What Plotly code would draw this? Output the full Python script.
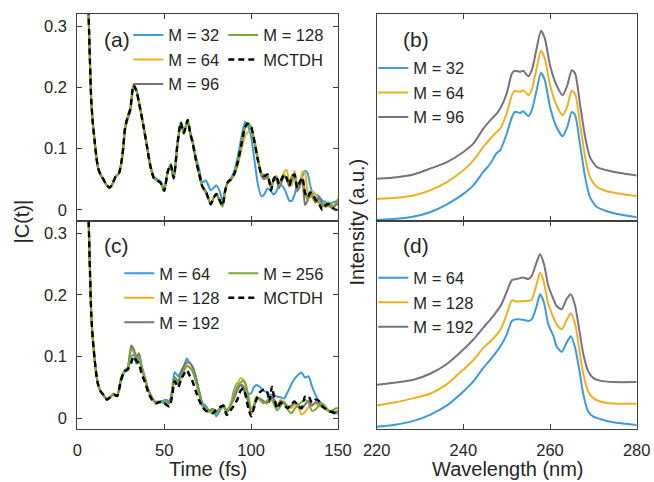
import plotly.graph_objects as go

W, H = 654, 482

# ---------------- Panel (a): |C(t)| ----------------
TA = [0, 2, 4, 6, 7, 8, 9, 10, 11, 12, 13.5, 15, 16.5, 18.5, 20, 22, 24, 26, 27.5, 29,
      30.5, 32.3, 34, 36, 38, 40, 42, 44, 46, 48, 50, 52, 53.7, 55.5, 57.5, 59.5, 61.3, 63.5, 65, 66.5,
      68, 70, 72, 74, 76.8, 78.5, 80, 82, 83.6, 85, 86.5, 88.5, 90.5, 92.5, 94.5, 96.5, 98, 100, 102, 104,
      106, 107.5, 109.5, 111.5, 113, 114.5, 116, 117.5, 119, 120.5, 122, 123.5, 125, 126.5, 128, 129.5, 131, 132.5, 134, 135.5,
      137, 139, 141, 143, 145, 147, 149, 150]

A_M32 = [1.0, 0.86, 0.6, 0.37, 0.27, 0.18, 0.14, 0.112, 0.086, 0.068,
         0.057, 0.05, 0.042, 0.036, 0.041, 0.054, 0.06, 0.088, 0.13, 0.148,
         0.16, 0.2, 0.196, 0.17, 0.14, 0.108, 0.075, 0.055, 0.05, 0.046,
         0.035, 0.062, 0.072, 0.05, 0.1, 0.14, 0.124, 0.145, 0.127, 0.112,
         0.09, 0.068, 0.045, 0.048, 0.032, 0.036, 0.04, 0.03, 0.015, 0.03,
         0.045, 0.052, 0.065, 0.09, 0.12, 0.144, 0.138, 0.12, 0.08, 0.04,
         0.022, 0.025, 0.035, 0.03, 0.025, 0.03, 0.04, 0.04, 0.035, 0.025,
         0.015, 0.015, 0.025, 0.04, 0.045, 0.055, 0.064, 0.06, 0.04, 0.027,
         0.025, 0.022, 0.015, 0.012, 0.01, 0.012, 0.014, 0.012]
A_M64 = [1.0, 0.86, 0.6, 0.37, 0.27, 0.18, 0.14, 0.112, 0.086, 0.068,
         0.057, 0.05, 0.042, 0.036, 0.041, 0.054, 0.06, 0.09, 0.134, 0.151,
         0.164, 0.203, 0.195, 0.168, 0.138, 0.105, 0.072, 0.052, 0.048, 0.044,
         0.032, 0.062, 0.073, 0.052, 0.103, 0.141, 0.125, 0.146, 0.125, 0.108,
         0.085, 0.06, 0.038, 0.03, 0.01, 0.02, 0.026, 0.016, 0.008, 0.03,
         0.044, 0.05, 0.058, 0.075, 0.1, 0.12, 0.127, 0.128, 0.115, 0.085,
         0.06, 0.058, 0.05, 0.04, 0.048, 0.055, 0.045, 0.05, 0.062, 0.065,
         0.045, 0.04, 0.064, 0.04, 0.035, 0.063, 0.06, 0.03, 0.02, 0.03,
         0.025, 0.015, 0.008, 0.01, 0.005, 0.004, 0.008, 0.01]
A_M96 = [1.0, 0.86, 0.6, 0.37, 0.27, 0.18, 0.14, 0.112, 0.086, 0.068,
         0.057, 0.05, 0.042, 0.036, 0.041, 0.054, 0.06, 0.09, 0.135, 0.152,
         0.165, 0.204, 0.195, 0.168, 0.138, 0.105, 0.072, 0.052, 0.048, 0.044,
         0.031, 0.062, 0.074, 0.052, 0.105, 0.143, 0.126, 0.147, 0.125, 0.108,
         0.085, 0.06, 0.038, 0.03, 0.009, 0.02, 0.026, 0.015, 0.007, 0.03,
         0.045, 0.05, 0.06, 0.08, 0.107, 0.134, 0.14, 0.135, 0.11, 0.08,
         0.055, 0.05, 0.055, 0.035, 0.048, 0.05, 0.035, 0.045, 0.055, 0.05,
         0.038, 0.05, 0.055, 0.03, 0.04, 0.05, 0.008, 0.015, 0.03, 0.02,
         0.012, 0.02, 0.01, 0.005, 0.008, 0.002, 0.01, 0.008]
A_M128 = [1.0, 0.86, 0.6, 0.37, 0.27, 0.18, 0.14, 0.112, 0.086, 0.068,
          0.057, 0.05, 0.042, 0.036, 0.041, 0.054, 0.06, 0.09, 0.135, 0.152,
          0.165, 0.205, 0.196, 0.168, 0.138, 0.105, 0.072, 0.052, 0.048, 0.044,
          0.031, 0.062, 0.074, 0.053, 0.105, 0.143, 0.127, 0.148, 0.125, 0.108,
          0.085, 0.06, 0.036, 0.028, 0.008, 0.02, 0.025, 0.013, 0.005, 0.03,
          0.045, 0.05, 0.06, 0.08, 0.108, 0.136, 0.142, 0.136, 0.11, 0.08,
          0.058, 0.055, 0.058, 0.034, 0.052, 0.055, 0.04, 0.052, 0.057, 0.05,
          0.042, 0.056, 0.057, 0.035, 0.046, 0.052, 0.03, 0.015, 0.025, 0.022,
          0.015, 0.012, 0.005, 0.01, 0.012, 0.006, 0.012, 0.018]
A_MCTDH = [1.0, 0.86, 0.6, 0.37, 0.27, 0.18, 0.14, 0.112, 0.086, 0.068,
           0.057, 0.05, 0.042, 0.036, 0.041, 0.054, 0.06, 0.09, 0.135, 0.152,
           0.165, 0.204, 0.195, 0.168, 0.138, 0.105, 0.072, 0.052, 0.048, 0.044,
           0.031, 0.062, 0.074, 0.052, 0.105, 0.143, 0.126, 0.147, 0.125, 0.108,
           0.085, 0.06, 0.038, 0.03, 0.009, 0.02, 0.026, 0.015, 0.007, 0.03,
           0.045, 0.05, 0.06, 0.08, 0.108, 0.135, 0.141, 0.136, 0.11, 0.08,
           0.058, 0.055, 0.058, 0.032, 0.05, 0.056, 0.042, 0.05, 0.058, 0.052,
           0.04, 0.055, 0.058, 0.036, 0.045, 0.053, 0.028, 0.02, 0.028, 0.025,
           0.017, 0.01, 0.0, 0.008, 0.009, 0.003, 0.0, 0.003]

# ---------------- Panel (c): |C(t)| ----------------
TC = [0, 2, 4, 6, 7, 8, 9, 10, 11, 12, 13.5, 15, 17, 19, 21, 23, 25, 27, 29, 31,
      32.5, 34, 35.5, 37, 39, 41, 43, 45, 47, 49, 51, 53, 54.5, 56, 58, 60, 61.5, 63, 64.5, 66,
      68, 70, 72, 74, 76, 78, 80, 82, 84, 86, 88, 90, 92, 94, 95.5, 97, 98.5, 100, 101.5, 103,
      105, 107, 109, 110.5, 112, 113.5, 115, 117, 119, 121, 123, 125, 127, 129, 131, 133, 135, 137, 139, 141,
      143, 145, 147, 149, 150]

C_M64 = [1.0, 0.86, 0.6, 0.38, 0.27, 0.172, 0.127, 0.096, 0.071, 0.055,
         0.044, 0.038, 0.032, 0.035, 0.04, 0.037, 0.058, 0.074, 0.078, 0.1,
         0.103, 0.088, 0.095, 0.08, 0.062, 0.045, 0.034, 0.027, 0.027, 0.028,
         0.03, 0.028, 0.045, 0.075, 0.068, 0.078, 0.085, 0.097, 0.09, 0.085,
         0.07, 0.045, 0.025, 0.02, 0.012, 0.015, 0.003, 0.012, 0.02, 0.008,
         0.02, 0.043, 0.057, 0.054, 0.046, 0.042, 0.04, 0.04, 0.05, 0.054,
         0.051, 0.045, 0.042, 0.038, 0.038, 0.037, 0.035, 0.034, 0.032, 0.042,
         0.054, 0.064, 0.07, 0.074, 0.066, 0.068, 0.052, 0.038, 0.028, 0.022,
         0.016, 0.012, 0.008, 0.008, 0.008]
C_M128 = [1.0, 0.86, 0.6, 0.38, 0.27, 0.17, 0.126, 0.095, 0.07, 0.054,
          0.043, 0.037, 0.03, 0.034, 0.039, 0.036, 0.062, 0.075, 0.08, 0.112,
          0.108, 0.096, 0.1, 0.082, 0.063, 0.044, 0.033, 0.025, 0.026, 0.026,
          0.025, 0.025, 0.04, 0.065, 0.058, 0.07, 0.078, 0.086, 0.083, 0.08,
          0.062, 0.04, 0.02, 0.016, 0.01, 0.014, 0.01, 0.015, 0.02, 0.01,
          0.022, 0.038, 0.055, 0.065, 0.062, 0.05, 0.03, 0.015, 0.02, 0.032,
          0.03, 0.026, 0.024, 0.028, 0.034, 0.03, 0.022, 0.03, 0.025, 0.02,
          0.016, 0.022, 0.018, 0.006, 0.01, 0.018, 0.022, 0.024, 0.02, 0.018,
          0.014, 0.01, 0.012, 0.01, 0.01]
C_M192 = [1.0, 0.86, 0.6, 0.38, 0.27, 0.17, 0.126, 0.095, 0.07, 0.054,
          0.043, 0.037, 0.03, 0.034, 0.039, 0.036, 0.063, 0.077, 0.082, 0.118,
          0.112, 0.1, 0.105, 0.086, 0.065, 0.045, 0.033, 0.025, 0.026, 0.026,
          0.026, 0.026, 0.042, 0.067, 0.06, 0.075, 0.086, 0.09, 0.09, 0.085,
          0.068, 0.045, 0.022, 0.015, 0.012, 0.015, 0.01, 0.016, 0.022, 0.012,
          0.02, 0.03, 0.045, 0.054, 0.052, 0.04, 0.025, 0.008, 0.015, 0.03,
          0.032, 0.028, 0.025, 0.03, 0.034, 0.028, 0.018, 0.028, 0.024, 0.018,
          0.02, 0.026, 0.022, 0.015, 0.022, 0.028, 0.02, 0.026, 0.024, 0.02,
          0.016, 0.012, 0.01, 0.01, 0.012]
C_M256 = [1.0, 0.86, 0.6, 0.38, 0.27, 0.17, 0.126, 0.095, 0.07, 0.054,
          0.043, 0.037, 0.03, 0.034, 0.039, 0.036, 0.062, 0.076, 0.08, 0.113,
          0.108, 0.095, 0.1, 0.083, 0.063, 0.044, 0.033, 0.025, 0.026, 0.026,
          0.025, 0.024, 0.038, 0.064, 0.055, 0.068, 0.078, 0.085, 0.082, 0.078,
          0.062, 0.04, 0.02, 0.015, 0.01, 0.013, 0.008, 0.015, 0.02, 0.01,
          0.02, 0.035, 0.05, 0.058, 0.061, 0.055, 0.035, 0.016, 0.02, 0.035,
          0.03, 0.024, 0.028, 0.032, 0.03, 0.02, 0.013, 0.02, 0.027, 0.015,
          0.008, 0.015, 0.021, 0.026, 0.03, 0.025, 0.012, 0.014, 0.02, 0.024,
          0.018, 0.011, 0.013, 0.016, 0.016]
C_MCTDH = [1.0, 0.86, 0.6, 0.38, 0.27, 0.17, 0.125, 0.095, 0.07, 0.054,
           0.043, 0.038, 0.03, 0.034, 0.038, 0.036, 0.06, 0.076, 0.079, 0.09,
           0.1, 0.093, 0.088, 0.072, 0.058, 0.04, 0.03, 0.024, 0.026, 0.027,
           0.022, 0.019, 0.035, 0.06, 0.05, 0.065, 0.072, 0.078, 0.07, 0.062,
           0.045, 0.03, 0.018, 0.012, 0.01, 0.008, 0.014, 0.018, 0.02, 0.005,
           0.012, 0.02, 0.03, 0.045, 0.048, 0.035, 0.015, 0.003, 0.015, 0.03,
           0.042, 0.046, 0.045, 0.027, 0.051, 0.03, 0.016, 0.025, 0.022, 0.016,
           0.022, 0.027, 0.02, 0.016, 0.035, 0.036, 0.025, 0.03, 0.028, 0.019,
           0.015, 0.011, 0.01, 0.007, 0.006]

# ---------------- Panel (b): spectra ----------------
WB = [220, 224.6, 228.5, 232.3, 236.2, 240, 242.3, 244.6, 246.2, 247.7, 248.5, 250, 251.2, 251.9, 253.1, 253.8,
      255, 255.8, 256.9, 257.9, 258.8, 260, 261.5, 262.9, 264, 265, 265.8, 266.9, 268.1, 269.2, 270.8, 273.1,
      276.2, 280]
B_M32 = [0.003, 0.008, 0.019, 0.04, 0.078, 0.129, 0.17, 0.235, 0.275, 0.327, 0.34, 0.42, 0.5, 0.526, 0.521, 0.529,
         0.505, 0.534, 0.631, 0.715, 0.68, 0.55, 0.453, 0.408, 0.453, 0.526, 0.51, 0.372, 0.21, 0.113, 0.065, 0.045,
         0.029, 0.016]
B_M64 = [0.104, 0.11, 0.121, 0.146, 0.186, 0.243, 0.291, 0.356, 0.396, 0.429, 0.445, 0.518, 0.607, 0.628, 0.623, 0.631,
         0.607, 0.634, 0.736, 0.822, 0.785, 0.655, 0.558, 0.51, 0.553, 0.628, 0.612, 0.472, 0.307, 0.21, 0.162, 0.142,
         0.129, 0.117]
B_M96 = [0.202, 0.21, 0.223, 0.251, 0.283, 0.332, 0.372, 0.445, 0.485, 0.518, 0.542, 0.615, 0.712, 0.725, 0.72, 0.725,
         0.699, 0.728, 0.833, 0.919, 0.882, 0.752, 0.655, 0.607, 0.655, 0.728, 0.712, 0.566, 0.405, 0.307, 0.259, 0.243,
         0.23, 0.218]

# ---------------- Panel (d): spectra ----------------
WD = [220, 224.6, 228.5, 232.3, 236.2, 240, 242.3, 244.6, 246.9, 248.8, 250, 251.2, 252.3, 253.8, 255, 255.8,
      256.8, 257.7, 258.6, 259.6, 260.8, 261.5, 262.7, 263.8, 264.8, 265.8, 266.8, 267.7, 268.8, 270, 271.5,
      274.6, 280]
D_M64 = [0.011, 0.022, 0.039, 0.068, 0.113, 0.18, 0.228, 0.293, 0.349, 0.405, 0.453, 0.518, 0.526, 0.524, 0.518, 0.526,
         0.582, 0.646, 0.606, 0.502, 0.445, 0.397, 0.37, 0.413, 0.445, 0.389, 0.277, 0.164, 0.084, 0.059, 0.048,
         0.032, 0.019]
D_M128 = [0.113, 0.129, 0.148, 0.169, 0.215, 0.285, 0.33, 0.389, 0.434, 0.486, 0.55, 0.617, 0.611, 0.614, 0.614, 0.622,
          0.686, 0.751, 0.702, 0.598, 0.534, 0.502, 0.478, 0.521, 0.555, 0.502, 0.373, 0.26, 0.18, 0.148, 0.132,
          0.122, 0.121]
D_M192 = [0.212, 0.223, 0.236, 0.265, 0.312, 0.381, 0.429, 0.486, 0.542, 0.598, 0.659, 0.714, 0.719, 0.727, 0.719, 0.735,
          0.794, 0.839, 0.791, 0.687, 0.622, 0.59, 0.574, 0.622, 0.646, 0.59, 0.469, 0.357, 0.277, 0.244, 0.232,
          0.225, 0.225]

TIME_TICKS = [0, 50, 100, 150]
C_TICKS = [0, 0.1, 0.2, 0.3]
WL_TICKS = [220, 240, 260, 280]

BLUE = "#3B9BDC"
ORANGE = "#EDB120"
PURPLE = "#7E6E80"
GREEN = "#77AC30"
BLACK = "#000000"
FONT = "Liberation Sans, Arial, sans-serif"
TXT = "#262626"

fig = go.Figure()


def add_line(x, y, name, color, xa, ya, legend, dash=None, width=2.0):
    line = dict(color=color, width=width, shape="spline", smoothing=0.6)
    if dash:
        line["dash"] = dash
    fig.add_trace(go.Scatter(x=x, y=y, name=name, mode="lines", line=line,
                             xaxis=xa, yaxis=ya, legend=legend))


# (a)
add_line(TA, A_M32, "M = 32", BLUE, "x", "y", "legend")
add_line(TA, A_M64, "M = 64", ORANGE, "x", "y", "legend")
add_line(TA, A_M96, "M = 96", PURPLE, "x", "y", "legend")
add_line(TA, A_M128, "M = 128", GREEN, "x", "y", "legend2")
add_line(TA, A_MCTDH, "MCTDH", BLACK, "x", "y", "legend2", dash="6px,4px", width=2.4)
# (b)
add_line(WB, B_M32, "M = 32", BLUE, "x2", "y2", "legend5")
add_line(WB, B_M64, "M = 64", ORANGE, "x2", "y2", "legend5")
add_line(WB, B_M96, "M = 96", PURPLE, "x2", "y2", "legend5")
# (c)
add_line(TC, C_M64, "M = 64", BLUE, "x3", "y3", "legend3")
add_line(TC, C_M128, "M = 128", ORANGE, "x3", "y3", "legend3")
add_line(TC, C_M192, "M = 192", PURPLE, "x3", "y3", "legend3")
add_line(TC, C_M256, "M = 256", GREEN, "x3", "y3", "legend4")
add_line(TC, C_MCTDH, "MCTDH", BLACK, "x3", "y3", "legend4", dash="6px,4px", width=2.4)
# (d)
add_line(WD, D_M64, "M = 64", BLUE, "x4", "y4", "legend6")
add_line(WD, D_M128, "M = 128", ORANGE, "x4", "y4", "legend6")
add_line(WD, D_M192, "M = 192", PURPLE, "x4", "y4", "legend6")


def px_x(p):
    return p / W


def px_y(p):
    return 1 - p / H


XL = [px_x(77.3), px_x(338.0)]
XR = [px_x(376.7), px_x(636.7)]
YT = [px_y(220.5), px_y(14.0)]
YB = [px_y(429.0), px_y(220.5)]

axis_common = dict(showline=True, linecolor="#404040", linewidth=1, mirror="ticks",
                   ticks="inside", ticklen=5, tickwidth=1, tickcolor="#404040",
                   showgrid=False, zeroline=False, automargin=False,
                   tickfont=dict(family=FONT, size=16.5, color=TXT))

yr = [-0.0175, 0.3205]
fig.update_layout(
    xaxis=dict(domain=XL, anchor="y", range=[0, 150], tickvals=TIME_TICKS, showticklabels=False, **axis_common),
    yaxis=dict(domain=YT, anchor="x", range=yr, tickvals=C_TICKS, ticklabelstandoff=6, **axis_common),
    xaxis2=dict(domain=XR, anchor="y2", range=[220, 280], tickvals=WL_TICKS, showticklabels=False, **axis_common),
    yaxis2=dict(domain=YT, anchor="x2", range=[0, 1], showline=True, linecolor="#404040", linewidth=1,
                mirror=True, ticks="", showticklabels=False, showgrid=False, zeroline=False),
    xaxis3=dict(domain=XL, anchor="y3", range=[0, 150], tickvals=TIME_TICKS, ticklabelstandoff=6, **axis_common),
    yaxis3=dict(domain=YB, anchor="x3", range=yr, tickvals=C_TICKS, ticklabelstandoff=6, **axis_common),
    xaxis4=dict(domain=XR, anchor="y4", range=[220, 280], tickvals=WL_TICKS, ticklabelstandoff=6, **axis_common),
    yaxis4=dict(domain=YB, anchor="x4", range=[0, 1], showline=True, linecolor="#404040", linewidth=1,
                mirror=True, ticks="", showticklabels=False, showgrid=False, zeroline=False),
)

leg_common = dict(xanchor="left", yanchor="top", bgcolor="rgba(0,0,0,0)", borderwidth=0,
                  font=dict(family=FONT, size=16.5, color=TXT), orientation="v", traceorder="normal",
                  itemwidth=30)
fig.update_layout(
    legend=dict(x=px_x(128.3), y=px_y(17.8), **leg_common),
    legend2=dict(x=px_x(223.3), y=px_y(17.8), **leg_common),
    legend3=dict(x=px_x(119.3), y=px_y(256.1), **leg_common),
    legend4=dict(x=px_x(223.3), y=px_y(256.1), **leg_common),
    legend5=dict(x=px_x(373.3), y=px_y(50.8), **leg_common),
    legend6=dict(x=px_x(373.3), y=px_y(260.5), **leg_common),
)

annots = [
    ("(a)", 116.5, 39, 0, 21),
    ("(b)", 416.3, 39, 0, 21),
    ("(c)", 116.3, 245, 0, 21),
    ("(d)", 416.3, 245, 0, 21),
    ("|C(t)|", 22, 221.5, -90, 20),
    ("Intensity (a.u.)", 357, 221.5, -90, 20),
    ("Time (fs)", 207.5, 469, 0, 20),
    ("Wavelength (nm)", 508, 469, 0, 20),
]
for text, x, y, ang, size in annots:
    fig.add_annotation(text=text, x=px_x(x), y=px_y(y), xref="paper", yref="paper",
                       xanchor="center", yanchor="middle", showarrow=False, textangle=ang,
                       font=dict(family=FONT, size=size, color=TXT))

fig.update_layout(width=W, height=H, margin=dict(l=0, r=0, t=0, b=0),
                  paper_bgcolor="white", plot_bgcolor="white", showlegend=True,
                  font=dict(family=FONT, color=TXT))

fig.write_html("out.html")
